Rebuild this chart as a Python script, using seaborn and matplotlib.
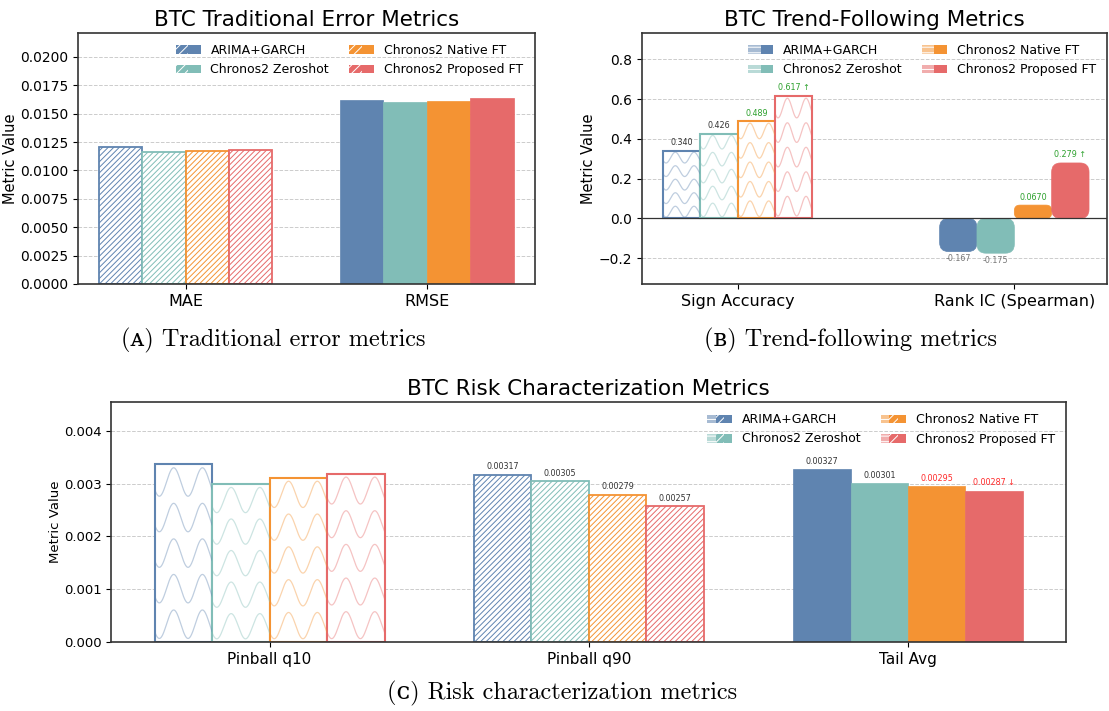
import numpy as np
import pandas as pd
import matplotlib
matplotlib.use("Agg")
import matplotlib.pyplot as plt
import seaborn as sns
from matplotlib.patches import Patch, FancyBboxPatch
from matplotlib.legend_handler import HandlerTuple
from matplotlib.colors import to_rgba

# ---------------- data ----------------
models = ["ARIMA+GARCH", "Chronos2 Zeroshot", "Chronos2 Native FT", "Chronos2 Proposed FT"]
colors = ["#5f84b0", "#81bdb7", "#f49333", "#e66a6a"]

a_metrics = ["MAE", "RMSE"]
a_arima = [0.01203, 0.01620]
a_zero = [0.01166, 0.01602]
a_native = [0.01167, 0.01614]
a_proposed = [0.01181, 0.01637]

b_metrics = ["Sign Accuracy", "Rank IC (Spearman)"]
b_arima = [0.340, -0.167]
b_zero = [0.426, -0.175]
b_native = [0.489, 0.0670]
b_proposed = [0.617, 0.279]

c_metrics = ["Pinball q10", "Pinball q90", "Tail Avg"]
c_arima = [0.00337, 0.00317, 0.00327]
c_zero = [0.00299, 0.00305, 0.00301]
c_native = [0.00311, 0.00279, 0.00295]
c_proposed = [0.00319, 0.00257, 0.00287]

# annotation styling (per metric, per model)
GREEN, DARK, GREY, RED = "#2ca02c", "#333333", "#777777", "#ff2a2a"
b_label_colors = [[DARK, DARK, GREEN, GREEN], [GREY, GREY, GREEN, GREEN]]
b_label_marks = [["", "", "", " \u2191"], ["", "", "", " \u2191"]]
c_label_colors = [None, [DARK, DARK, DARK, DARK], [DARK, DARK, RED, RED]]
c_label_marks = [None, ["", "", "", ""], ["", "", "", " \u2193"]]


def make_df(metrics, series):
    rows = []
    for m_i, m in enumerate(metrics):
        for s_i, mod in enumerate(models):
            rows.append({"metric": m, "model": mod, "value": series[s_i][m_i]})
    return pd.DataFrame(rows)


df_a = make_df(a_metrics, [a_arima, a_zero, a_native, a_proposed])
df_b = make_df(b_metrics, [b_arima, b_zero, b_native, b_proposed])
df_c = make_df(c_metrics, [c_arima, c_zero, c_native, c_proposed])

# ---------------- style ----------------
sns.set_style("white")
plt.rcParams["font.family"] = ["DejaVu Sans"]
plt.rcParams["hatch.linewidth"] = 0.7
plt.rcParams["axes.edgecolor"] = "#333333"
plt.rcParams["xtick.bottom"] = True
plt.rcParams["ytick.left"] = True
for key in ["text.color", "axes.labelcolor", "xtick.color", "ytick.color", "axes.titlecolor"]:
    plt.rcParams[key] = "black"

W, H = 1109, 711
fig = plt.figure(figsize=(W / 100, H / 100), dpi=100)


def rect(l, t, r, b):
    return [l / W, 1 - b / H, (r - l) / W, (b - t) / H]


ax_a = fig.add_axes(rect(78, 33, 534.5, 284))
ax_b = fig.add_axes(rect(641.7, 33, 1107, 284))
ax_c = fig.add_axes(rect(111.3, 402, 1066.3, 642))
palette = dict(zip(models, colors))


def draw(ax, df, order, width):
    sns.barplot(data=df, x="metric", y="value", hue="model", order=order,
                hue_order=models, palette=palette, width=width, saturation=1,
                errorbar=None, legend=False, ax=ax)
    ax.set_xlabel("")
    ax.set_ylabel("Metric Value", fontsize=10.5)
    ax.set_axisbelow(True)
    ax.yaxis.grid(True, linestyle="--", color="#cccccc", linewidth=0.7)
    ax.xaxis.grid(False)
    for sp in ax.spines.values():
        sp.set_visible(True)
        sp.set_color("#333333")
        sp.set_linewidth(1.2)
    xs = [p.get_x() for p in ax.patches] + [p.get_x() + p.get_width() for p in ax.patches]
    lo, hi = min(xs), max(xs)
    span = hi - lo
    ax.set_xlim(lo - 0.05 * span, hi + 0.05 * span)


def style_hatch(p, color):
    p.set_facecolor("white")
    p.set_edgecolor(color)
    p.set_hatch("//////")
    p.set_linewidth(1.3)


def style_solid(p, color):
    p.set_facecolor(color)
    p.set_edgecolor(color)
    p.set_linewidth(0.5)


def style_wave(ax, p, color):
    p.set_facecolor("white")
    p.set_edgecolor(color)
    p.set_linewidth(1.5)
    x0, y0 = p.get_x(), p.get_y()
    w, h = p.get_width(), p.get_height()
    xs = np.linspace(x0, x0 + w, 200)
    t = (xs - x0) / w
    for k in range(5):
        yc = y0 + h * (0.1 + 0.2 * k)
        ys = yc + 0.08 * h * np.sin(4 * np.pi * t - 2.58)
        ln, = ax.plot(xs, ys, color=color, alpha=0.4, lw=0.9,
                      zorder=p.get_zorder() + 0.1, scalex=False, scaley=False)
        ln.set_clip_path(p)


def annotate(ax, p, text, color):
    val = p.get_height()
    xc = p.get_x() + p.get_width() / 2
    if val >= 0:
        ax.annotate(text, (xc, p.get_y() + val), xytext=(0, 2.5), textcoords="offset points",
                    ha="center", va="bottom", fontsize=5.8, color=color)
    else:
        ax.annotate(text, (xc, p.get_y() + val), xytext=(0, -2), textcoords="offset points",
                    ha="center", va="top", fontsize=5.8, color=color)


def legend(ax, kinds, fontsize):
    handles = []
    for c in colors:
        parts = []
        for k in kinds:
            if k == "wave":
                parts.append(Patch(facecolor=to_rgba(c, 0.55), edgecolor="white", hatch="---", linewidth=0))
            elif k == "hatch":
                parts.append(Patch(facecolor=c, edgecolor="white", hatch="////", linewidth=0))
            else:
                parts.append(Patch(facecolor=c, edgecolor=c, linewidth=0))
        handles.append(tuple(parts))
    ax.legend(handles, models, ncol=2, loc="upper right", frameon=False, fontsize=fontsize,
              handler_map={tuple: HandlerTuple(ndivide=None, pad=0)}, handlelength=2.0,
              columnspacing=1.6)


TITLE_FS = 15.5

# ---------------- panel A ----------------
draw(ax_a, df_a, a_metrics, 0.72)
for ci, cont in enumerate(ax_a.containers):
    for mi, p in enumerate(cont.patches):
        if mi == 0:
            style_hatch(p, colors[ci])
        else:
            style_solid(p, colors[ci])
ax_a.set_ylim(0, max(a_arima + a_zero + a_native + a_proposed) * 1.35)
ax_a.set_title("BTC Traditional Error Metrics", fontsize=TITLE_FS, pad=5)
ax_a.tick_params(axis="y", labelsize=10)
ax_a.tick_params(axis="x", labelsize=11.5)
ax_a.yaxis.set_label_coords(-0.131, 0.5)
legend(ax_a, ["hatch", "solid"], 9)

# ---------------- panel B ----------------
draw(ax_b, df_b, b_metrics, 0.54)
ax_b.set_xlim(ax_b.get_xlim()[0], ax_b.get_xlim()[1] - 0.012)
ax_b.set_ylim(-0.33, 0.933)
ax_b.axhline(0, color="#333333", lw=0.9, zorder=1.5)
fig.canvas.draw()
tr = ax_b.transData
px_x = tr.transform((1, 0))[0] - tr.transform((0, 0))[0]
px_y = tr.transform((0, 1))[1] - tr.transform((0, 0))[1]
aspect = px_x / px_y
for ci, cont in enumerate(ax_b.containers):
    for mi, p in enumerate(list(cont.patches)):
        if mi == 0:
            style_wave(ax_b, p, colors[ci])
        else:
            x0, y0 = p.get_x(), min(p.get_y(), p.get_y() + p.get_height())
            w, h = p.get_width(), abs(p.get_height())
            r = 9.0 / px_x
            r = min(r, 0.42 * h / aspect)
            fb = FancyBboxPatch((x0, y0), w, h, boxstyle=f"round,pad=0,rounding_size={r}",
                                mutation_aspect=aspect, facecolor=colors[ci],
                                edgecolor=colors[ci], linewidth=0.5, zorder=p.get_zorder())
            ax_b.add_patch(fb)
            p.set_visible(False)
        txt = f"{p.get_height():#.3g}" + b_label_marks[mi][ci]
        annotate(ax_b, p, txt, b_label_colors[mi][ci])
ax_b.set_title("BTC Trend-Following Metrics", fontsize=TITLE_FS, pad=5)
ax_b.tick_params(axis="y", labelsize=10)
ax_b.tick_params(axis="x", labelsize=11.5)
ax_b.yaxis.set_label_coords(-0.098, 0.5)
legend(ax_b, ["wave", "solid"], 9)

# ---------------- panel C ----------------
draw(ax_c, df_c, c_metrics, 0.72)
for ci, cont in enumerate(ax_c.containers):
    for mi, p in enumerate(cont.patches):
        if mi == 0:
            style_wave(ax_c, p, colors[ci])
        elif mi == 1:
            style_hatch(p, colors[ci])
        else:
            style_solid(p, colors[ci])
        if c_label_colors[mi] is not None:
            txt = f"{p.get_height():#.3g}" + c_label_marks[mi][ci]
            annotate(ax_c, p, txt, c_label_colors[mi][ci])
ax_c.set_ylim(0, max(c_arima + c_zero + c_native + c_proposed) * 1.35)
ax_c.set_title("BTC Risk Characterization Metrics", fontsize=TITLE_FS, pad=5)
ax_c.set_ylabel("Metric Value", fontsize=9.5)
ax_c.tick_params(axis="y", labelsize=9.5)
ax_c.tick_params(axis="x", labelsize=11)
ax_c.yaxis.set_label_coords(-0.052, 0.5)
legend(ax_c, ["wave", "hatch", "solid"], 9)

# ---------------- captions ----------------
cap_font = ["cmr10", "DejaVu Serif"]
fig.text(273 / W, 1 - 340 / H, "(\u1d00) Traditional error metrics", ha="center", va="center",
         fontsize=17.5, family=cap_font)
fig.text(850 / W, 1 - 340 / H, "(\u0299) Trend-following metrics", ha="center", va="center",
         fontsize=17.5, family=cap_font)
fig.text(562 / W, 1 - 693 / H, "(\u1d04) Risk characterization metrics", ha="center", va="center",
         fontsize=17.5, family=cap_font)

fig.savefig("out.png", dpi=100)
